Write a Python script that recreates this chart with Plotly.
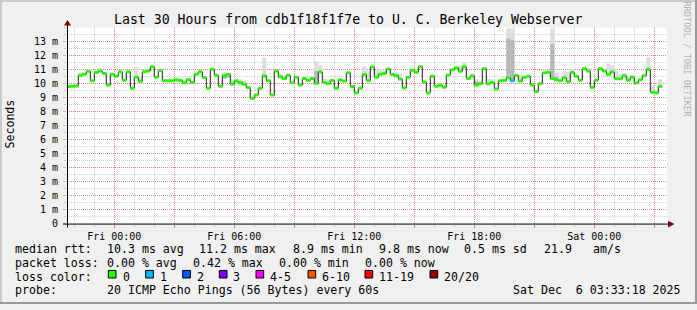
import datetime as dt
import plotly.graph_objects as go

W, H = 697, 310
FONT = "DejaVu Sans Mono"

# ---------------- data ----------------
step_start = "2025-12-04 21:36:00"      # first consolidated step
step_minutes = 12
median_ms = [
    9.78, 9.80, 9.82, 10.59, 10.66, 10.87, 10.20, 10.78, 10.90, 10.71,
    9.89, 10.66, 10.52, 10.83, 10.24, 10.83, 9.66, 10.45, 10.17, 10.83,
    10.90, 11.20, 10.45, 10.92, 10.20, 10.20, 10.20, 10.27, 10.22, 10.06,
    10.29, 10.08, 10.66, 10.83, 10.43, 9.66, 11.01, 10.59, 9.80, 10.55,
    10.64, 9.96, 10.17, 10.08, 9.94, 9.71, 8.94, 9.17, 9.66, 10.55,
    10.20, 9.17, 10.90, 10.48, 10.36, 10.59, 10.06, 10.45, 9.89, 10.36,
    10.22, 10.36, 10.01, 10.83, 10.08, 9.99, 10.22, 9.66, 10.27, 10.17,
    10.76, 9.78, 9.33, 9.66, 10.64, 10.20, 11.18, 10.45, 10.66, 10.71,
    11.04, 10.64, 10.57, 10.31, 9.68, 10.45, 10.94, 10.80, 11.20, 10.10,
    9.33, 10.52, 9.80, 9.87, 9.73, 10.59, 10.99, 11.13, 10.87, 11.20,
    10.36, 10.55, 9.87, 9.99, 11.06, 9.99, 10.08, 9.61, 10.20, 10.22,
    10.41, 10.20, 10.57, 10.17, 10.43, 10.52, 9.89, 9.43, 9.99, 10.76,
    10.80, 10.36, 10.27, 10.20, 10.41, 10.13, 10.78, 10.52, 10.24, 11.06,
    10.90, 9.71, 10.24, 11.06, 10.90, 10.64, 10.83, 10.34, 10.34, 10.55,
    10.24, 10.45, 10.03, 10.27, 10.55, 11.01, 9.38, 9.33, 9.80,
]
# steps with lost pings: {step index: lost pings}
lost_pings = {111: 1}

# smoke (ping spread) per step: (step index, low ms, high ms)
smoke_light = [
    (8, 10.80, 11.10), (17, 10.40, 11.17), (18, 10.00, 10.50),
    (26, 10.15, 10.36), (27, 10.15, 10.38), (28, 10.10, 10.36),
    (33, 10.75, 10.95), (39, 10.30, 10.80), (40, 10.40, 10.75),
    (41, 9.85, 10.30), (42, 10.00, 10.35), (43, 9.85, 10.30), (44, 9.85, 10.20),
    (49, 10.40, 11.83), (53, 10.35, 10.70), (54, 10.30, 10.60),
    (62, 9.95, 11.57), (63, 10.70, 11.30), (64, 10.00, 10.40), (65, 9.90, 10.30),
    (74, 10.50, 11.22), (75, 10.15, 10.90), (77, 10.40, 10.95), (78, 10.60, 11.06),
    (79, 10.60, 10.90), (82, 10.40, 10.80), (83, 10.25, 10.70),
    (98, 10.80, 11.30), (99, 11.10, 11.50), (102, 9.80, 10.30), (103, 9.90, 10.20),
    (105, 9.95, 10.35), (106, 10.00, 10.30), (110, 10.30, 13.93), (111, 10.10, 13.93),
    (113, 10.10, 10.60), (114, 10.35, 10.60), (121, 10.30, 13.93), (122, 10.20, 10.80),
    (124, 10.35, 10.90), (125, 10.05, 10.80), (126, 10.70, 11.05), (130, 10.80, 11.10),
    (135, 10.55, 11.43), (136, 10.75, 11.30), (137, 10.30, 10.90), (138, 10.30, 10.70),
    (139, 10.45, 10.75), (140, 10.20, 10.55), (141, 10.40, 10.60),
    (145, 10.90, 11.88), (146, 9.30, 9.90), (147, 9.30, 9.50), (148, 9.70, 10.30),
]
smoke_mid = [
    (18, 10.05, 10.25), (39, 10.35, 10.70), (40, 10.45, 10.70), (62, 10.00, 10.90),
    (102, 9.85, 10.15), (110, 10.40, 13.20), (111, 10.20, 13.10),
    (121, 10.35, 12.80), (122, 10.25, 10.50),
]
smoke_dark = [(39, 10.45, 10.60), (43, 9.95, 10.10), (102, 9.85, 10.05)]

loss_labels = ["0", "1", "2", "3", "4-5", "6-10", "11-19", "20/20"]
loss_colors = ["#26ff00", "#00b8ff", "#0059ff", "#7e00ff", "#ff00ff", "#ff5500", "#ff0000", "#a10000"]

x_range = ["2025-12-04 21:38:06", "2025-12-06 03:38:06"]
xtick_times = ["2025-12-05 00:00", "2025-12-05 03:00", "2025-12-05 06:00", "2025-12-05 09:00",
               "2025-12-05 12:00", "2025-12-05 15:00", "2025-12-05 18:00", "2025-12-05 21:00",
               "2025-12-06 00:00", "2025-12-06 03:00"]
xtick_labels = ["Fri 00:00", "", "Fri 06:00", "", "Fri 12:00", "", "Fri 18:00", "", "Sat 00:00", ""]
ytick_vals = list(range(0, 14))
ytick_labels = ["0"] + [f"{v} m" for v in range(1, 14)]

title = "Last 30 Hours from cdb1f18f1f7e to U. C. Berkeley Webserver"
rtt_texts = ["median rtt:", "10.3 ms avg", "11.2 ms max", "8.9 ms min", "9.8 ms now", "0.5 ms sd", "21.9", "am/s"]
loss_texts = ["packet loss:", "0.00 % avg", "0.42 % max", "0.00 % min", "0.00 % now"]
probe_texts = ["probe:", "20 ICMP Echo Pings (56 Bytes) every 60s"]
stamp = "Sat Dec  6 03:33:18 2025"

# ---------------- layout constants (pixels) ----------------
PL, PR, PT, PB = 67, 667, 28, 228
rtt_x = [16, 107.3, 200, 293.3, 379.3, 465.3, 544.3, 593.7]
loss_x = [16, 107.3, 193.3, 279.3, 365.3]
box_x = [108.3, 145.7, 182.7, 219.3, 256, 308, 365, 430]
box_lbl_x = [123.3, 160.7, 197.7, 234, 270.7, 322.7, 380, 444.7]
LINE_Y = [254, 268, 282, 296]


def px(x):
    return x / W


def py(y):
    return 1 - y / H


t0 = dt.datetime.fromisoformat(step_start)
step = dt.timedelta(minutes=step_minutes)
starts = [t0 + i * step for i in range(len(median_ms))]
ends = [s + step for s in starts]
centers = [s + step / 2 for s in starts]

fig = go.Figure()


def smoke_trace(items, color):
    return go.Bar(
        x=[centers[i] for i, lo, hi in items],
        y=[hi - lo for i, lo, hi in items],
        base=[lo for i, lo, hi in items],
        width=[step.total_seconds() * 1000] * len(items),
        marker=dict(color=color, line=dict(width=0)),
        hoverinfo="skip", showlegend=False,
    )


fig.add_trace(smoke_trace(smoke_light, "#dcdcdc"))
fig.add_trace(smoke_trace(smoke_mid, "#b8b8b8"))
fig.add_trace(smoke_trace(smoke_dark, "#8a8a8a"))

# black median step line
fig.add_trace(go.Scatter(
    x=starts + [ends[-1]], y=median_ms + [median_ms[-1]],
    mode="lines", line=dict(color="#202020", width=1, shape="hv"),
    hoverinfo="skip", showlegend=False,
))


def loss_bucket(n):
    if n <= 3:
        return n
    if n <= 5:
        return 4
    if n <= 10:
        return 5
    if n <= 19:
        return 6
    return 7


buckets = {}
for i, v in enumerate(median_ms):
    b = loss_bucket(lost_pings.get(i, 0))
    bx, by = buckets.setdefault(b, ([], []))
    bx += [starts[i], ends[i], None]
    by += [v, v, None]
for b, (bx, by) in buckets.items():
    fig.add_trace(go.Scatter(
        x=bx, y=by, mode="lines", line=dict(color=loss_colors[b], width=3),
        hoverinfo="skip", showlegend=False,
    ))

ann = []


def text(x, y, s, size=11.6, anchor="left", color="#000", angle=0):
    ann.append(dict(x=px(x), y=py(y), xref="paper", yref="paper", text=s,
                    showarrow=False, xanchor=anchor, yanchor="middle",
                    font=dict(family=FONT, size=size, color=color),
                    textangle=angle, borderpad=0, borderwidth=0))


text(348, 19.5, title, size=13.2, anchor="center")
text(10, 127, "Seconds", size=11.6, anchor="center", angle=-90)
text(687.5, 60, "RRDTOOL / TOBI OETIKER", size=8.7, anchor="center", color="#b4b4b4", angle=90)
for s, x in zip(rtt_texts, rtt_x):
    text(x - 0.8, LINE_Y[0], s)
for s, x in zip(loss_texts, loss_x):
    text(x - 0.8, LINE_Y[1], s)
text(16 - 0.8, LINE_Y[2], "loss color:")
for s, x in zip(loss_labels, box_lbl_x):
    text(x - 0.8, LINE_Y[2], s)
text(16 - 0.8, LINE_Y[3], probe_texts[0])
text(107.3 - 0.8, LINE_Y[3], probe_texts[1])
text(680.5, LINE_Y[3], stamp, anchor="right")

shapes = []
for c, x in zip(loss_colors, box_x):
    shapes.append(dict(type="rect", xref="paper", yref="paper",
                       x0=px(x), x1=px(x + 7.7), y0=py(283.5), y1=py(275.8),
                       fillcolor=c, line=dict(color="#000", width=1)))
# axes lines + arrows
shapes.append(dict(type="line", xref="paper", yref="paper", x0=px(63), x1=px(670),
                   y0=py(228.5), y1=py(228.5), line=dict(color="#000", width=1)))
shapes.append(dict(type="line", xref="paper", yref="paper", x0=px(67.5), x1=px(67.5),
                   y0=py(232), y1=py(25), line=dict(color="#000", width=1)))
shapes.append(dict(type="path", xref="paper", yref="paper",
                   path=f"M {px(668)} {py(225)} L {px(674.5)} {py(228.5)} L {px(668)} {py(232)} Z",
                   fillcolor="#800000", line=dict(color="#800000", width=0)))
shapes.append(dict(type="path", xref="paper", yref="paper",
                   path=f"M {px(64)} {py(26)} L {px(67.5)} {py(20.5)} L {px(71)} {py(26)} Z",
                   fillcolor="#800000", line=dict(color="#800000", width=0)))
# 3D border
shapes += [
    dict(type="rect", xref="paper", yref="paper", x0=0, x1=1, y0=py(2), y1=1,
         fillcolor="#cbcbcb", line=dict(width=0)),
    dict(type="rect", xref="paper", yref="paper", x0=0, x1=px(2), y0=0, y1=1,
         fillcolor="#cbcbcb", line=dict(width=0)),
    dict(type="rect", xref="paper", yref="paper", x0=0, x1=1, y0=0, y1=py(308),
         fillcolor="#999999", line=dict(width=0)),
    dict(type="rect", xref="paper", yref="paper", x0=px(695), x1=1, y0=0, y1=1,
         fillcolor="#999999", line=dict(width=0)),
]

MAJ = "rgba(255,0,0,0.38)"
MIN = "rgba(150,150,150,0.45)"
fig.update_layout(
    width=W, height=H, autosize=False,
    margin=dict(l=0, r=0, t=0, b=0, pad=0),
    paper_bgcolor="#f0f0f0", plot_bgcolor="#ffffff",
    barmode="overlay", showlegend=False,
    font=dict(family=FONT, color="#000"),
    annotations=ann, shapes=shapes,
    xaxis=dict(
        type="date", domain=[px(PL), px(PR)], range=x_range,
        tickmode="array", tickvals=xtick_times, ticktext=xtick_labels,
        showgrid=True, gridcolor=MAJ, griddash="1px,1px", gridwidth=1,
        ticks="outside", ticklen=3, tickcolor="#c08080", tickwidth=1,
        tickfont=dict(family=FONT, size=10, color="#000"),
        showline=False, zeroline=False, fixedrange=True,
        minor=dict(tickmode="linear", dtick=3600000, tick0="2025-12-05 00:00",
                   showgrid=True, gridcolor=MIN, griddash="1px,1px", gridwidth=1,
                   ticks="outside", ticklen=2, tickcolor="#bbbbbb"),
    ),
    yaxis=dict(
        domain=[py(PB), py(PT)], range=[0, 14],
        tickmode="array", tickvals=ytick_vals, ticktext=ytick_labels,
        showgrid=True, gridcolor=MAJ, griddash="1px,1px", gridwidth=1,
        ticks="outside", ticklen=3, tickcolor="#bbbbbb",
        tickfont=dict(family=FONT, size=10, color="#000"),
        ticklabelstandoff=3,
        showline=False, zeroline=False, fixedrange=True,
        minor=dict(tickmode="linear", dtick=0.5, tick0=0, showgrid=True,
                   gridcolor=MIN, griddash="1px,1px", gridwidth=1,
                   ticks="outside", ticklen=2, tickcolor="#cccccc"),
    ),
)

fig.write_html("out.html", config={"displayModeBar": False})
